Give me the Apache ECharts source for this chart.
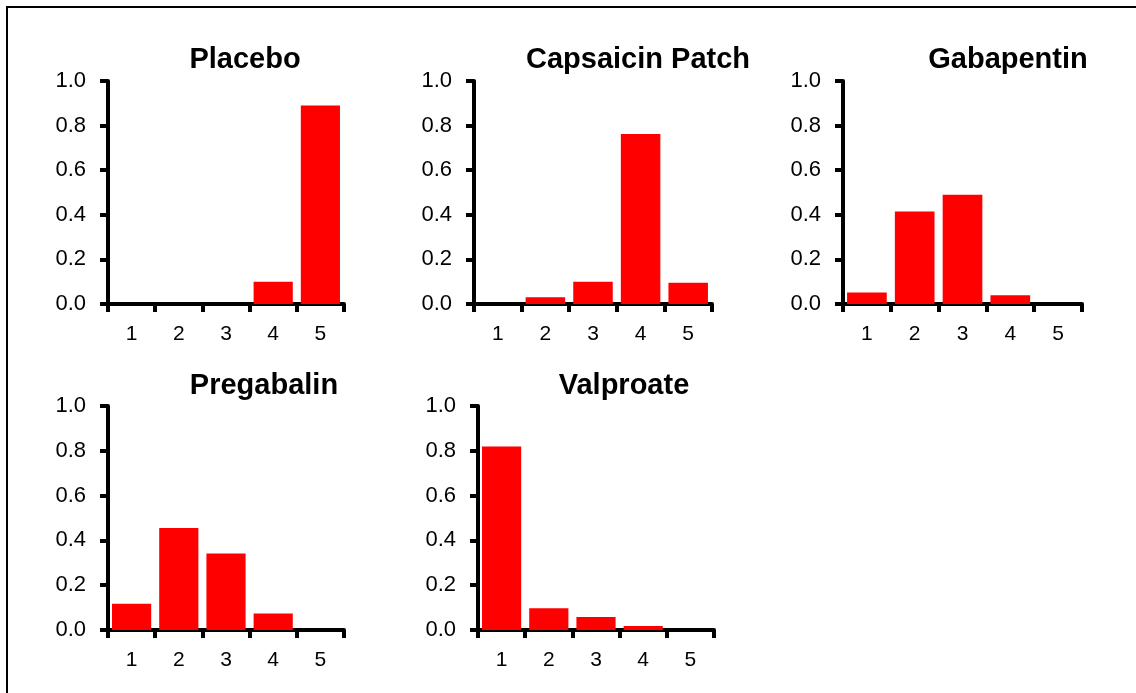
<!DOCTYPE html>
<html>
<head>
<meta charset="utf-8">
<script src="https://cdn.jsdelivr.net/npm/echarts@6/dist/echarts.min.js"></script>
<style>
html,body{margin:0;padding:0;background:#fff;}
#chart{width:1136px;height:693px;}
</style>
</head>
<body>
<div id="chart"></div>
<script>
// ---- data ----
const categories = ['1', '2', '3', '4', '5'];
const panelTitles = ['Placebo', 'Capsaicin Patch', 'Gabapentin', 'Pregabalin', 'Valproate'];
const placebo    = [0, 0, 0, 0.10, 0.89];
const capsaicin  = [0, 0.03, 0.10, 0.762, 0.095];
const gabapentin = [0.052, 0.415, 0.49, 0.039, 0];
const pregabalin = [0.117, 0.455, 0.342, 0.074, 0];
const valproate  = [0.819, 0.097, 0.058, 0.018, 0];
const yTicks = [0, 0.2, 0.4, 0.6, 0.8, 1.0];

const seriesData = [placebo, capsaicin, gabapentin, pregabalin, valproate];

// ---- layout (pixels) ----
const grids = [
  {left: 108, top: 81,  width: 236, height: 223},
  {left: 474, top: 81,  width: 238, height: 223},
  {left: 843, top: 81,  width: 239, height: 223},
  {left: 108, top: 406, width: 236, height: 224},
  {left: 478, top: 406, width: 236, height: 224}
];
const titlePos = [
  [245, 60], [638, 60], [1008, 60], [264, 386], [624, 386]
];

const FONT = '"Liberation Sans", Arial, sans-serif';

const option = {
  backgroundColor: '#ffffff',
  animation: false,
  grid: grids.map(g => Object.assign({containLabel: false}, g)),
  xAxis: grids.map((g, i) => ({
    type: 'category',
    gridIndex: i,
    data: categories,
    boundaryGap: true,
    axisLine: {show: true, lineStyle: {color: '#000', width: 4}},
    axisTick: {show: true, length: 8, alignWithLabel: false, lineStyle: {color: '#000', width: 4}},
    axisLabel: {color: '#000', fontSize: 21, fontFamily: FONT, margin: 20},
    splitLine: {show: false}
  })),
  yAxis: grids.map((g, i) => ({
    type: 'value',
    gridIndex: i,
    min: 0,
    max: 1,
    interval: 0.2,
    axisLine: {show: true, lineStyle: {color: '#000', width: 4}},
    axisTick: {show: true, length: 8, lineStyle: {color: '#000', width: 4}},
    axisLabel: {
      color: '#000', fontSize: 22, fontFamily: FONT, margin: 22,
      formatter: v => {
        const t = yTicks.find(k => Math.abs(k - v) < 1e-9);
        return (t !== undefined ? t : v).toFixed(1);
      }
    },
    splitLine: {show: false}
  })),
  series: seriesData.map((d, i) => ({
    type: 'bar',
    name: panelTitles[i],
    xAxisIndex: i,
    yAxisIndex: i,
    data: d,
    barCategoryGap: '17%',
    itemStyle: {color: '#ff0000'},
    z: 1
  })),
  graphic: [
    {
      type: 'rect',
      silent: true,
      shape: {x: 7, y: 7, width: 1160, height: 720},
      style: {fill: null, stroke: '#000', lineWidth: 2},
      z: 100
    }
  ].concat(panelTitles.map((t, i) => ({
    type: 'text',
    x: titlePos[i][0],
    y: titlePos[i][1],
    style: {
      text: t,
      fill: '#000',
      font: 'bold 29px ' + FONT,
      textAlign: 'center',
      textVerticalAlign: 'middle'
    },
    z: 100
  })))
};

const chart = echarts.init(document.getElementById('chart'), null, {renderer: 'canvas'});
chart.setOption(option);
</script>
</body>
</html>
